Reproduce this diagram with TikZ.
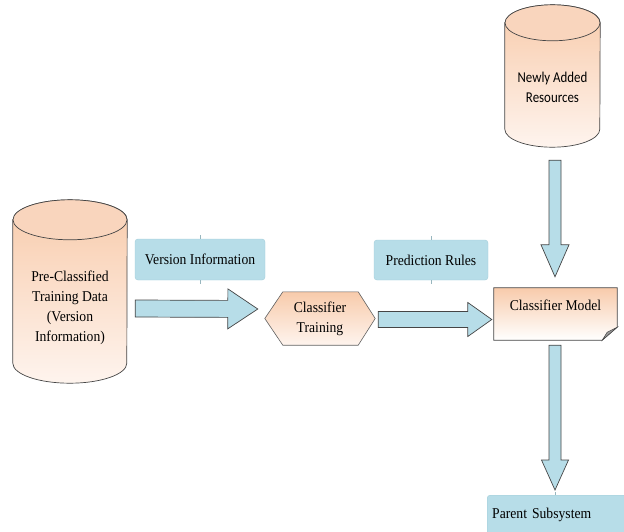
\documentclass[tikz,border=0pt]{standalone}
\usepackage{fontspec}
\setmainfont{Liberation Serif}[FakeStretch=0.91]
\newfontfamily\calibfont{Carlito}[FakeStretch=0.86]
\usetikzlibrary{calc,backgrounds}

\definecolor{peach}{HTML}{F8CBAB}
\definecolor{peachtop}{HTML}{F9D5BD}
\definecolor{peachpale}{HTML}{FEF4EE}
\definecolor{aqua}{HTML}{B7DDE8}
\definecolor{aquaedge}{HTML}{A3CDD9}
\definecolor{edge}{HTML}{454545}

\tikzset{
  lbl/.style={font=\fontsize{15}{20}\selectfont, align=center},
  drum/.style={draw=edge, line width=0.7pt, top color=peach, bottom color=peachpale},
  drumlid/.style={draw=edge, line width=0.7pt, fill=peachtop},
  hexfill/.style={draw=edge!85, line width=0.6pt, top color=peach, bottom color=peachpale},
  notefill/.style={draw=edge, line width=0.7pt, top color=peach, bottom color=white},
  infobox/.style={lbl, fill=aqua, draw=aquaedge, line width=0.4pt, rounded corners=3pt},
  flowarrow/.style={draw=edge, line width=0.7pt, fill=aqua, line join=miter},
  nub/.style={draw=aquaedge!70!gray, line width=0.6pt}
}

\newcommand{\drawdrum}[3]{%
  \shadedraw[drum] ($(#1.north west)+(0,#3)$) -- ($(#1.south west)+(0,-#3)$)
    arc[start angle=180, end angle=360, x radius=#2pt, y radius=#3pt]
    -- ($(#1.north east)+(0,#3)$)
    arc[start angle=0, end angle=180, x radius=#2pt, y radius=#3pt] -- cycle;
  \filldraw[drumlid] ($(#1.north)+(0,#3)$) ellipse[x radius=#2pt, y radius=#3pt];
}

\newcommand{\blockarrow}[5]{%
  \coordinate (ba-t) at #1;
  \coordinate (ba-p) at #2;
  \coordinate (ba-h) at ($(ba-p)!#5pt!(ba-t)$);
  \draw[flowarrow] ($(ba-t)!#3pt!90:(ba-p)$) -- ($(ba-h)!#3pt!90:(ba-p)$)
    -- ($(ba-h)!#4pt!90:(ba-p)$) -- (ba-p) -- ($(ba-h)!#4pt!-90:(ba-p)$)
    -- ($(ba-h)!#3pt!-90:(ba-p)$) -- ($(ba-t)!#3pt!-90:(ba-p)$) -- cycle;
}

\begin{document}
\begin{tikzpicture}[x=1pt, y=-1pt]
  \useasboundingbox (0,0) rectangle (624,531);

  \node[inner sep=0pt, minimum width=114pt, minimum height=183pt] (datadrum) at (70,291.5) {};
  \node[lbl] (datatext) at ($(datadrum.center)+(0,16)$) {Pre-Classified\\Training Data\\(Version\\Information)};
  \node[inner sep=0pt, minimum width=95pt, minimum height=142pt] (newdrum) at (552.5,76) {};
  \node[lbl, font=\calibfont\fontsize{15}{20}\selectfont] (newtext) at ($(newdrum.center)+(0,11)$) {Newly Added\\Resources};
  \node[infobox, minimum width=130pt, minimum height=41pt] (vinfo) at (200,259.5) {Version Information};
  \node[infobox, minimum width=114pt, minimum height=40pt] (rules) at (431,260) {Prediction Rules};
  \node[lbl, inner sep=0pt, minimum width=110pt, minimum height=53pt] (train) at (320,318.5) {Classifier\\Training};
  \node[lbl, inner xsep=0pt, inner ysep=8pt, minimum width=123pt, text height=14pt, text depth=22pt] (model) at (555.5,314) {Classifier Model};
  \node[infobox, anchor=north west, text width=140pt, align=left, inner xsep=5pt, minimum height=40pt] (parent) at (487,495) {Parent Subsystem};

  \begin{scope}[on background layer]
    \drawdrum{datadrum}{57}{20}
    \drawdrum{newdrum}{47.5}{18}
    \shadedraw[hexfill] ($(train.north west)+(18,0)$) -- ($(train.north east)+(-17,0)$) -- (train.east)
      -- ($(train.south east)+(-17,0)$) -- ($(train.south west)+(18,0)$) -- (train.west) -- cycle;
    \shadedraw[notefill] (model.north west) -- (model.north east) -- ($(model.south east)+(0,-13)$)
      -- ($(model.south east)+(-15,0)$) -- (model.south west) -- cycle;
    \filldraw[draw=edge, fill=edge!55, line width=0.5pt] ($(model.south east)+(-15,0)$)
      -- ($(model.south east)+(-10,-8)$) -- ($(model.south east)+(0,-13)$) -- cycle;
  \end{scope}

  \draw[nub] (vinfo.north) -- ++(0,-4);
  \draw[nub] (vinfo.south) -- ++(0,4);
  \draw[nub] (rules.north) -- ++(0,-4);
  \draw[nub] (rules.south) -- ++(0,4);
  \draw[nub] ($(parent.north west)+(68,0)$) -- ++(0,-3);

  \blockarrow{($(datadrum.east)+(8,17)$)}{($(train.west)+(-7,-9.5)$)}{8.5}{20}{30}
  \blockarrow{($(train.east)+(3,1)$)}{($(model.west)+(-2,5.5)$)}{8}{17}{24}
  \blockarrow{($(newdrum.south)+(2.5,13)$)}{($(model.north)+(-0.5,-11)$)}{6}{14}{32}
  \blockarrow{($(model.south)+(-0.5,5)$)}{($(parent.north west)+(68,-5)$)}{6}{13.5}{30}
\end{tikzpicture}
\end{document}
